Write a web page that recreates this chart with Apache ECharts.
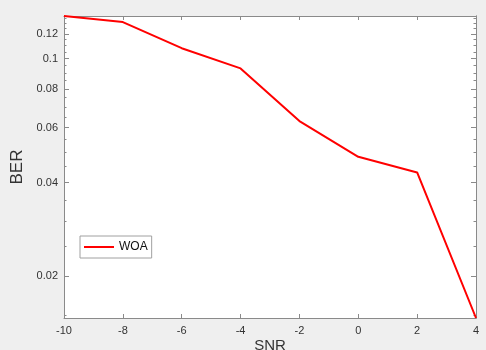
<!DOCTYPE html>
<html>
<head>
<meta charset="utf-8">
<script src="https://cdn.jsdelivr.net/npm/echarts@6/dist/echarts.min.js"></script>
<style>
  html, body { margin: 0; padding: 0; background: #efefef; }
  #main { width: 486px; height: 350px; }
</style>
</head>
<body>
<div id="main"></div>
<script>
// SNR (dB) and BER
var snr = [-10, -8, -6, -4, -2, 0, 2, 4];
var berWOA = [0.137, 0.131, 0.108, 0.093, 0.063, 0.0484, 0.0431, 0.0147];

var yMajor = [0.02, 0.04, 0.06, 0.08, 0.1, 0.12];
var yMinor = [0.015, 0.025, 0.03, 0.035, 0.045, 0.05, 0.055, 0.065, 0.07, 0.075,
              0.085, 0.09, 0.095, 0.105, 0.11, 0.115, 0.125, 0.13, 0.135];
var yMin = 0.0147, yMax = 0.137;

var myChart = echarts.init(document.getElementById('main'));
var axisCol = '#8a8a8a';
var font = 'Liberation Sans, Arial, Helvetica, sans-serif';

function yAx(pos, ticks, len, labels) {
    return {
        type: 'log',
        logBase: 10,
        position: pos,
        min: yMin,
        max: yMax,
        axisLine: {show: true, onZero: false, lineStyle: {color: axisCol, width: 1}},
        axisTick: {show: true, inside: true, length: len, customValues: ticks,
                   lineStyle: {color: axisCol}},
        axisLabel: labels ? {show: true, customValues: ticks, color: '#333',
                             fontSize: 11, fontFamily: font, margin: 6,
                             formatter: function (v) { return String(+v.toFixed(3)); }}
                          : {show: false},
        splitLine: {show: false}
    };
}

option = {
    backgroundColor: '#efefef',
    animation: false,
    grid: {left: 64, top: 16, right: 10, bottom: 32, show: true,
           outerBoundsMode: 'none', containLabel: false,
           backgroundColor: '#fff', borderWidth: 0},
    legend: {
        left: 80, top: 236,
        data: ['WOA'],
        icon: 'rect',
        itemWidth: 30, itemHeight: 2, itemGap: 4,
        padding: [5, 4, 5, 4],
        borderColor: '#a0a0a0', borderWidth: 1, borderRadius: 0,
        backgroundColor: '#fff',
        textStyle: {fontSize: 12, color: '#111', fontFamily: font}
    },
    xAxis: [{
        type: 'value',
        min: -10, max: 4, interval: 2,
        name: 'SNR', nameLocation: 'middle', nameGap: 20,
        nameMoveOverlap: false,
        nameTextStyle: {fontSize: 15, color: '#333', fontFamily: font,
                        verticalAlign: 'top'},
        axisLine: {onZero: false, lineStyle: {color: axisCol}},
        axisTick: {inside: true, length: 4, lineStyle: {color: axisCol}},
        axisLabel: {color: '#333', fontSize: 11, fontFamily: font, margin: 7},
        splitLine: {show: false}
    }, {
        type: 'value', position: 'top',
        min: -10, max: 4, interval: 2,
        axisLine: {show: true, onZero: false, lineStyle: {color: axisCol}},
        axisTick: {show: true, inside: true, length: 4, lineStyle: {color: axisCol}},
        axisLabel: {show: false},
        splitLine: {show: false}
    }],
    yAxis: [
        Object.assign(yAx('left', yMajor, 5, true), {
            name: 'BER', nameLocation: 'middle', nameGap: 28, nameRotate: 90,
            nameTextStyle: {fontSize: 17, color: '#333', fontFamily: font}
        }),
        yAx('left', yMinor, 2.5, false),
        yAx('right', yMajor, 5, false),
        yAx('right', yMinor, 2.5, false)
    ],
    series: [{
        name: 'WOA',
        type: 'line',
        symbol: 'none',
        xAxisIndex: 0,
        yAxisIndex: 0,
        data: snr.map(function (s, i) { return [s, berWOA[i]]; }),
        lineStyle: {color: '#ff0000', width: 2},
        itemStyle: {color: '#ff0000'}
    }]
};
myChart.setOption(option);
</script>
</body>
</html>
